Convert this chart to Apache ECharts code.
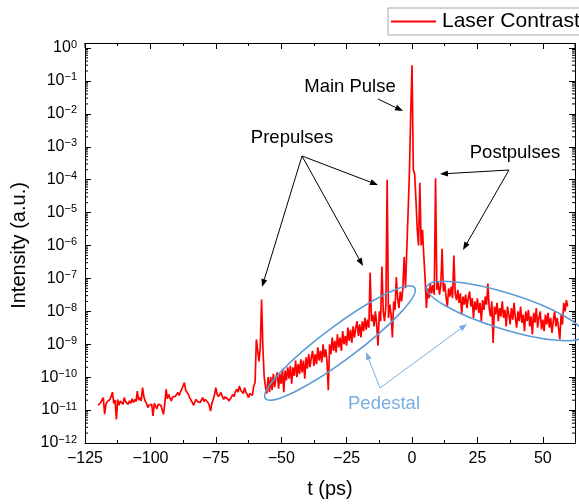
<!DOCTYPE html>
<html>
<head>
<meta charset="utf-8" />
<title>Laser Contrast</title>
<style>
  html, body { margin: 0; padding: 0; background: #fff; }
  #main { width: 579px; height: 504px; }
</style>
</head>
<body>
<div id="main"></div>
<script src="https://cdn.jsdelivr.net/npm/echarts@6/dist/echarts.min.js"></script>
<script>
// sampling grid of the measurement (ps)
var tStart = -120, tStep = 0.5;

// intensity (a.u.), one row = 5 ps
var intensity = [
  1.4e-11, 1.5e-11, 1.7e-11, 1.6e-11, 2.4e-11, 7.5e-12, 1.5e-11, 1.8e-11, 1.6e-11, 2.1e-11, // -120
  2.6e-11, 3.5e-11, 1.6e-11, 2.0e-11, 5.2e-12, 2.1e-11, 1.4e-11, 1.9e-11, 1.7e-11, 1.5e-11, // -115
  2.4e-11, 1.8e-11, 2.0e-11, 1.5e-11, 1.9e-11, 1.6e-11, 2.2e-11, 1.7e-11, 2.1e-11, 1.8e-11, // -110
  3.8e-11, 2.0e-11, 2.4e-11, 1.9e-11, 4.8e-11, 2.6e-11, 1.9e-11, 1.6e-11, 1.2e-11, 1.4e-11, // -105
  1.3e-11, 1.5e-11, 6.6e-12, 1.6e-11, 1.3e-11, 1.1e-11, 1.5e-11, 1.7e-11, 1.4e-11, 1.6e-11, // -100
  7.4e-12, 1.6e-11, 4.3e-11, 2.2e-11, 3.0e-11, 2.3e-11, 1.9e-11, 2.5e-11, 2.2e-11, 2.6e-11, // -95
  2.3e-11, 3.4e-11, 2.8e-11, 3.6e-11, 4.3e-11, 3.8e-11, 6.8e-11, 4.0e-11, 3.8e-11, 3.0e-11, // -90
  2.4e-11, 2.2e-11, 1.7e-11, 1.4e-11, 1.8e-11, 2.1e-11, 1.8e-11, 1.6e-11, 1.7e-11, 1.9e-11, // -85
  2.4e-11, 1.8e-11, 2.1e-11, 2.1e-11, 1.7e-11, 1.4e-11, 9.3e-12, 1.6e-11, 2.1e-11, 2.9e-11, // -80
  4.8e-11, 3.0e-11, 2.6e-11, 2.4e-11, 3.4e-11, 2.6e-11, 2.1e-11, 2.5e-11, 2.6e-11, 2.2e-11, // -75
  1.9e-11, 1.7e-11, 2.5e-11, 3.0e-11, 2.6e-11, 3.6e-11, 4.3e-11, 3.5e-11, 5.4e-11, 4.0e-11, // -70
  3.8e-11, 3.2e-11, 4.8e-11, 3.5e-11, 3.0e-11, 2.4e-11, 3.2e-11, 3.4e-11, 2.8e-11, 5.4e-11, // -65
  6.8e-11, 1.4e-9, 1.6e-9, 3e-10, 8e-10, 2.3e-8, 8e-10, 1e-10, 5e-11, 3.2e-11,              // -60
  1e-10, 3.5e-11, 1e-10, 4e-11, 1.26e-10, 5e-11, 1e-10, 1.4e-10, 4.5e-11, 1.26e-10,          // -55
  6.3e-11, 1.8e-10, 3.5e-11, 1.6e-10, 8e-11, 2e-10, 9e-11, 2.2e-10, 6.3e-11, 2e-10,          // -50
  1.1e-10, 3.2e-10, 1e-10, 2.5e-10, 1.26e-10, 3.5e-10, 1.4e-10, 3.2e-10, 9e-11, 4e-10,       // -45
  1.8e-10, 5e-10, 2e-10, 4e-10, 6.3e-10, 2.2e-10, 5e-10, 2.5e-10, 8e-10, 3.2e-10,            // -40
  6.3e-10, 2.8e-10, 1e-9, 4e-10, 7e-10, 3.2e-10, 4e-11, 1e-9, 5e-10, 1.6e-9,                 // -35
  6.3e-10, 1.26e-9, 5.6e-10, 2e-9, 8e-10, 1.6e-9, 6.3e-10, 2.5e-9, 1e-9, 1.8e-9,             // -30
  9e-10, 3.2e-9, 1.26e-9, 2.8e-9, 1.1e-9, 3.5e-9, 1.6e-9, 3.2e-9, 5e-9, 1.8e-9,              // -25
  4e-9, 1.6e-9, 5e-9, 2.5e-9, 6.3e-9, 2.8e-9, 5.6e-9, 3.2e-9, 1.5e-7, 5e-9,                  // -20
  8e-9, 3.5e-9, 1e-8, 4e-9, 9e-10, 1e-8, 5e-9, 2.3e-7, 1e-8, 5e-9,                           // -15
  1.4e-8, 1e-4, 6.3e-9, 1.6e-8, 8e-9, 1.6e-9, 2e-8, 1.1e-8, 1.1e-7, 2.5e-8,                  // -10
  1.26e-8, 4e-8, 2e-8, 5e-8, 4.5e-7, 5e-8, 7.4e-7, 1e-5, 1.6e-4, 1e-2,                       // -5
  0.3, 2e-4, 1.5e-4, 2.5e-5, 3e-6, 1e-6, 8e-5, 1e-6, 3e-6, 5e-7,                             // 0
  1e-7, 1.26e-8, 5e-8, 2.5e-8, 7e-8, 3.5e-8, 6.3e-8, 3.2e-8, 1.1e-4, 4.5e-8,                 // 5
  8e-8, 3.2e-8, 6.3e-8, 8e-7, 4e-8, 7e-8, 2.8e-8, 1.4e-8, 5e-8, 2.8e-8,                      // 10
  5.6e-8, 2.5e-8, 5e-7, 3.5e-8, 2.2e-8, 4.5e-8, 1.8e-8, 3.5e-8, 8e-9, 2.8e-8,                // 15
  1.6e-8, 3.2e-8, 1.26e-8, 2.5e-8, 4e-8, 1.4e-8, 2.5e-8, 6.3e-9, 2e-8, 1.1e-8,               // 20
  2.5e-8, 9e-9, 1.8e-8, 5e-9, 2.2e-8, 1.1e-8, 2.8e-8, 1.6e-8, 7e-8, 1.26e-8,                 // 25
  7e-9, 2e-8, 1.1e-9, 1.4e-8, 8e-9, 1.8e-8, 5e-9, 1.26e-8, 7e-9, 2e-8,                       // 30
  6.3e-9, 1.1e-8, 3.5e-9, 1.4e-8, 8e-9, 4e-9, 1.26e-8, 5.6e-9, 1.8e-8, 6.3e-9,               // 35
  3.2e-9, 1e-8, 5e-9, 1.4e-8, 4.5e-9, 8e-9, 2.5e-9, 1e-8, 5e-9, 1.1e-8,                      // 40
  3.5e-9, 7e-9, 2e-9, 9e-9, 4.5e-9, 1.26e-8, 3.2e-9, 6.3e-9, 1e-8, 2.8e-9,                   // 45
  5.6e-9, 2.5e-9, 8e-9, 4e-9, 9e-9, 3.2e-9, 6.3e-9, 2.2e-9, 5e-9, 1e-8,                      // 50
  3.5e-9, 6.3e-9, 3.2e-9, 1.4e-9, 8e-9, 4e-9, 1.8e-8, 1e-8, 2.2e-8, 1.4e-8                   // 55
];

// axis ranges / ticks
var xMin = -125, xMax = 62.3, xStep = 25;
var yMin = 1e-12, yMax = 1;

var FONT = 'Liberation Sans, Arial, sans-serif';
var RED = '#ff0000';
var BLUE = '#5b9bd5';
var LIGHTBLUE = '#7aaee0';

var seriesData = intensity.map(function (v, i) { return [tStart + i * tStep, v]; });

function minusSign(v) { return String(v).replace('-', '\u2212'); }

function powLabel(v) {
  var e = Math.round(Math.log(v) / Math.LN10);
  return '{b|10}{s|' + minusSign(e) + '}';
}

function arrow(p1, p2, color) {
  var a = Math.atan2(p2[1] - p1[1], p2[0] - p1[0]);
  var L = 8, W = 3;
  var bx = p2[0] - L * Math.cos(a), by = p2[1] - L * Math.sin(a);
  return [
    { type: 'line', z: 100, shape: { x1: p1[0], y1: p1[1], x2: bx, y2: by },
      style: { stroke: color, lineWidth: 1 } },
    { type: 'polygon', z: 100,
      shape: { points: [[p2[0], p2[1]],
        [bx - W * Math.sin(a), by + W * Math.cos(a)],
        [bx + W * Math.sin(a), by - W * Math.cos(a)]] },
      style: { fill: color } }
  ];
}

function label(txt, x, y, color) {
  return { type: 'text', z: 100, x: x, y: y,
    style: { text: txt, fontSize: 18.5, fontFamily: FONT, fill: color || '#000',
      align: 'center', verticalAlign: 'middle' } };
}

var notes = [].concat(
  label('Main Pulse', 350, 87),
  arrow([378, 99], [403, 111], '#000'),
  label('Prepulses', 292, 138),
  arrow([302, 156], [262, 287], '#000'),
  arrow([302, 156], [363, 266], '#000'),
  arrow([302, 156], [378, 185], '#000'),
  label('Postpulses', 515, 153),
  arrow([509, 170], [440, 174], '#000'),
  arrow([509, 170], [463, 250], '#000'),
  [
    { type: 'ellipse', z: 100, x: 340, y: 343, rotation: 0.64,
      shape: { cx: 0, cy: 0, rx: 93, ry: 17 },
      style: { fill: 'none', stroke: BLUE, lineWidth: 1.6 } },
    { type: 'ellipse', z: 100, x: 505, y: 311, rotation: -0.30,
      shape: { cx: 0, cy: 0, rx: 82, ry: 18 },
      style: { fill: 'none', stroke: BLUE, lineWidth: 1.6 } }
  ],
  label('Pedestal', 384, 404, LIGHTBLUE),
  arrow([380, 388], [366, 352], LIGHTBLUE),
  arrow([380, 388], [467, 324], LIGHTBLUE)
);

var xAxisBase = {
  type: 'value', min: xMin, max: xMax, interval: xStep,
  axisLine: { show: true, onZero: false, lineStyle: { color: '#000', width: 1 } },
  axisTick: { show: true, inside: true, length: 6, lineStyle: { color: '#000' } },
  minorTick: { show: true, splitNumber: 2, length: 3, lineStyle: { color: '#000' } },
  splitLine: { show: false }
};

var yAxisBase = {
  type: 'log', logBase: 10, min: yMin, max: yMax, interval: 1,
  axisLine: { show: true, onZero: false, lineStyle: { color: '#000', width: 1 } },
  axisTick: { show: true, inside: true, length: 6, lineStyle: { color: '#000' } },
  splitLine: { show: false }
};

var chart = echarts.init(document.getElementById('main'));
var option = {
  animation: false,
  backgroundColor: '#fff',
  textStyle: { fontFamily: FONT },
  grid: { left: 85, right: 4, top: 48, bottom: 61, containLabel: false },
  legend: {
    left: 388, top: 8, padding: [3, 6, 3, 3],
    borderColor: '#a6a6a6', borderWidth: 1, borderRadius: 0,
    icon: 'rect', itemWidth: 45, itemHeight: 2, itemGap: 10,
    textStyle: { fontSize: 21, color: '#000', fontFamily: FONT, padding: [0, 0, 0, 1] },
    data: ['Laser Contrast']
  },
  xAxis: [
    Object.assign({}, xAxisBase, {
      position: 'bottom',
      name: 't (ps)', nameLocation: 'middle', nameGap: 36,
      nameTextStyle: { fontSize: 20, color: '#000', fontFamily: FONT },
      axisLabel: { show: true, margin: 8, fontSize: 16, color: '#000', fontFamily: FONT,
        showMaxLabel: false, formatter: minusSign }
    }),
    Object.assign({}, xAxisBase, {
      position: 'top', offset: 5, axisLabel: { show: false }
    })
  ],
  yAxis: [
    Object.assign({}, yAxisBase, {
      position: 'left',
      name: 'Intensity (a.u.)', nameLocation: 'middle', nameGap: 52,
      nameTextStyle: { fontSize: 20, color: '#000', fontFamily: FONT },
      axisLabel: { show: true, margin: 8, color: '#000', formatter: powLabel,
        rich: {
          b: { fontSize: 16, fontFamily: FONT, color: '#000', lineHeight: 18 },
          s: { fontSize: 11, fontFamily: FONT, color: '#000', verticalAlign: 'top', lineHeight: 18, padding: [0, 0, 6, 0] }
        } }
    }),
    Object.assign({}, yAxisBase, {
      position: 'right', axisLabel: { show: false }
    })
  ],
  series: [{
    name: 'Laser Contrast', type: 'line', data: seriesData,
    symbol: 'none', showSymbol: false, sampling: null,
    lineStyle: { color: RED, width: 1.7 }, itemStyle: { color: RED },
    clip: true
  }],
  graphic: notes
};
chart.setOption(option);

// log minor ticks (2..9 of each decade) on the left and right frames
var extra = [];
var xl = chart.convertToPixel({ xAxisIndex: 0 }, xMin);
var xr = chart.convertToPixel({ xAxisIndex: 0 }, xMax);
var yTop = chart.convertToPixel({ yAxisIndex: 0 }, yMax);
for (var e = -12; e < 0; e++) {
  for (var k = 2; k <= 9; k++) {
    var py = chart.convertToPixel({ yAxisIndex: 0 }, k * Math.pow(10, e));
    extra.push({ type: 'line', z: 90, shape: { x1: xl, y1: py, x2: xl + 3, y2: py }, style: { stroke: '#000', lineWidth: 1 } });
    extra.push({ type: 'line', z: 90, shape: { x1: xr, y1: py, x2: xr - 3, y2: py }, style: { stroke: '#000', lineWidth: 1 } });
  }
}
// close the frame up to the offset top axis
extra.push({ type: 'line', z: 90, shape: { x1: xl, y1: yTop - 5, x2: xl, y2: yTop }, style: { stroke: '#000', lineWidth: 1 } });
extra.push({ type: 'line', z: 90, shape: { x1: xr, y1: yTop - 5, x2: xr, y2: yTop }, style: { stroke: '#000', lineWidth: 1 } });

chart.setOption({ graphic: notes.concat(extra) });
</script>
</body>
</html>
